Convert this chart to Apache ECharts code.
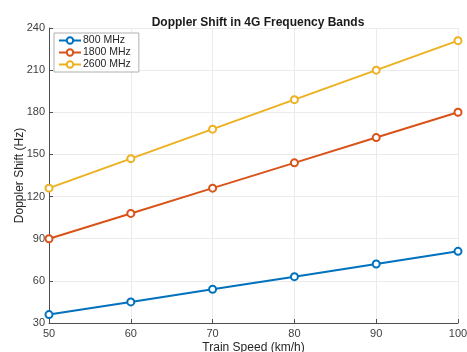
<!DOCTYPE html>
<html>
<head>
<meta charset="utf-8">
<script src="https://cdn.jsdelivr.net/npm/echarts@6/dist/echarts.min.js"></script>
<style>
  html, body { margin: 0; padding: 0; background: #fff; }
  #chart { width: 467px; height: 352px; }
</style>
</head>
<body>
<div id="chart"></div>
<script>
const speeds = [50, 60, 70, 80, 90, 100]
const shift800 = [36, 45, 54, 63, 72, 81]
const shift1800 = [90, 108, 126, 144, 162, 180]
const shift2600 = [126, 147, 168, 189, 210, 231]
const bandNames = ['800 MHz', '1800 MHz', '2600 MHz']
const bandColors = ['#0072BD', '#D95319', '#EDB120']

const font = 'Liberation Sans, Arial, sans-serif'
const axisGray = '#4d4d4d'

const chart = echarts.init(document.getElementById('chart'))

const makeSeries = (name, values, color) => ({
  name: name,
  type: 'line',
  data: speeds.map((s, i) => [s, values[i]]),
  symbol: 'emptyCircle',
  symbolSize: 7,
  showSymbol: true,
  lineStyle: { color: color, width: 2 },
  itemStyle: { color: color, borderColor: color, borderWidth: 2 },
  emphasis: { disabled: true },
})

const option = {
  backgroundColor: '#fff',
  animation: false,
  title: {
    text: 'Doppler Shift in 4G Frequency Bands',
    left: 253,
    top: 12,
    textAlign: 'center',
    textStyle: { fontFamily: font, fontSize: 12, fontWeight: 'bold', color: '#1a1a1a' },
  },
  legend: {
    left: 54,
    top: 33,
    orient: 'vertical',
    itemGap: 1,
    itemWidth: 22,
    itemHeight: 8,
    padding: [2, 8, 2, 4],
    backgroundColor: '#fff',
    borderColor: '#b0b0b0',
    borderWidth: 1,
    borderRadius: 0,
    textStyle: { fontFamily: font, fontSize: 10.5, color: '#262626', padding: [0, 0, 0, -3] },
    data: bandNames,
  },
  grid: { left: 49, right: 9, top: 28, bottom: 29, containLabel: false, outerBoundsMode: 'none' },
  xAxis: {
    type: 'value',
    min: 50,
    max: 100,
    interval: 10,
    name: 'Train Speed (km/h)',
    nameLocation: 'middle',
    nameGap: 19,
    nameMoveOverlap: false,
    nameTextStyle: { fontFamily: font, fontSize: 12, color: '#262626' },
    axisLine: { onZero: false, lineStyle: { color: axisGray, width: 1 } },
    axisTick: { inside: true, length: 4, lineStyle: { color: axisGray } },
    axisLabel: { fontFamily: font, fontSize: 11, color: '#404040', margin: 5 },
    splitLine: { show: true, lineStyle: { color: '#ebebeb', width: 1 } },
  },
  yAxis: {
    type: 'value',
    min: 30,
    max: 240,
    interval: 30,
    name: 'Doppler Shift (Hz)',
    nameLocation: 'middle',
    nameGap: 23,
    nameMoveOverlap: false,
    nameTextStyle: { fontFamily: font, fontSize: 12, color: '#262626' },
    axisLine: { show: true, lineStyle: { color: axisGray, width: 1 } },
    axisTick: { show: true, inside: true, length: 4, lineStyle: { color: axisGray } },
    axisLabel: { fontFamily: font, fontSize: 11, color: '#404040', margin: 4 },
    splitLine: { show: true, lineStyle: { color: '#ebebeb', width: 1 } },
  },
  series: [
    makeSeries(bandNames[0], shift800, bandColors[0]),
    makeSeries(bandNames[1], shift1800, bandColors[1]),
    makeSeries(bandNames[2], shift2600, bandColors[2]),
  ],
}

chart.setOption(option)
</script>
</body>
</html>
